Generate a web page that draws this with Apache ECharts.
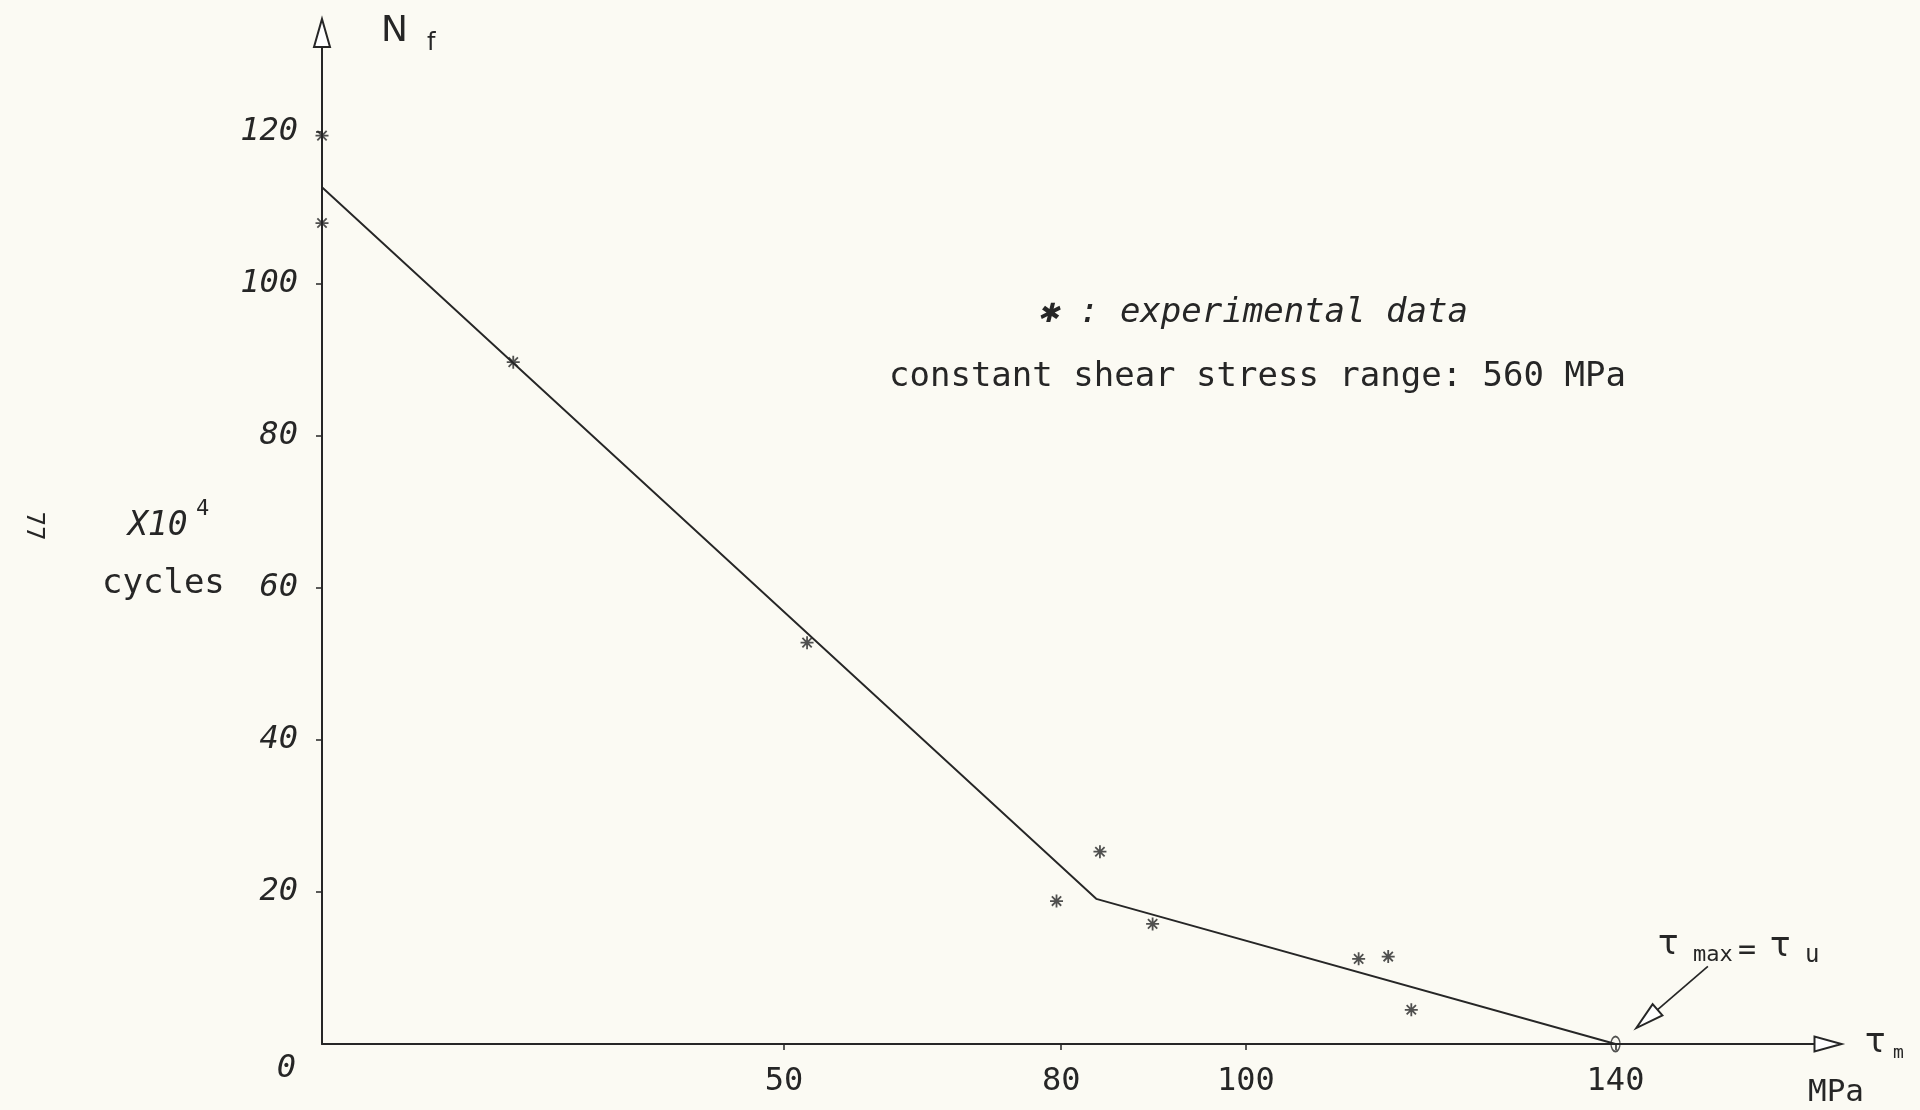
<!DOCTYPE html>
<html>
<head>
<meta charset="utf-8">
<style>
html,body{margin:0;padding:0;background:#fbfaf3;}
#chart{width:1920px;height:1110px;}
</style>
<script src="https://cdn.jsdelivr.net/npm/echarts@6/dist/echarts.min.js"></script>
</head>
<body>
<div id="chart"></div>
<script>
// ---- data ----
const xTickValues = [50, 80, 100, 140];
const yTickValues = [0, 20, 40, 60, 80, 100, 120];
// experimental data (tau_m in MPa, Nf in 10^4 cycles)
const expTau = [0, 0, 20.7, 52.5, 79.5, 84.2, 89.9, 112.2, 115.4, 117.9];
const expCycles = [119.5, 108, 89.7, 52.8, 18.8, 25.3, 15.8, 11.2, 11.5, 4.5];
// fitted polyline
const fitTau = [0, 83.8, 140];
const fitCycles = [112.7, 19.1, 0];
// tau_max = tau_u point
const ultTau = [140];
const ultCycles = [0];
// annotation arrow (tail -> head) in data units
const arrowTau = [150.0, 143.4];
const arrowCycles = [10.2, 3.3];

const INK = '#262626';
const MONO = "'DejaVu Sans Mono', 'Liberation Mono', monospace";

const chart = echarts.init(document.getElementById('chart'));
const asterisk = 'path://M0,-6L0,6M-6,0L6,0M-4.3,-4.3L4.3,4.3M-4.3,4.3L4.3,-4.3';

const option = {
  backgroundColor: '#fbfaf3',
  animation: false,
  grid: { left: 322, right: 92, top: 33, bottom: 66 },
  xAxis: {
    type: 'value', min: 0, max: 163,
    splitLine: { show: false },
    axisLine: { lineStyle: { color: INK, width: 2 }, symbol: ['none', 'emptyTriangle'], symbolSize: [15, 27] },
    axisTick: { show: true, length: 6, inside: false, customValues: xTickValues, lineStyle: { color: INK, width: 1.5 } },
    axisLabel: { customValues: xTickValues, margin: 22, color: INK, fontFamily: MONO, fontSize: 32 }
  },
  yAxis: {
    type: 'value', min: 0, max: 133,
    splitLine: { show: false },
    axisLine: { onZero: false, lineStyle: { color: INK, width: 2 }, symbol: ['none', 'emptyTriangle'], symbolSize: [16, 28] },
    axisTick: { show: true, length: 6, customValues: yTickValues.filter(v => v > 0), lineStyle: { color: INK, width: 1.5 } },
    axisLabel: {
      customValues: yTickValues, margin: 24, color: INK, fontFamily: MONO, fontSize: 32, fontStyle: 'italic',
      formatter: v => (v === 0 ? '{z|0}' : String(v)),
      rich: { z: { fontFamily: MONO, fontSize: 32, fontStyle: 'italic', color: INK, padding: [50, 2, 0, 0] } }
    }
  },
  series: [
    {
      type: 'line',
      data: fitTau.map((x, i) => [x, fitCycles[i]]),
      symbol: 'none',
      lineStyle: { color: INK, width: 1.9 },
      z: 2
    },
    {
      type: 'scatter',
      data: expTau.map((x, i) => [x, expCycles[i]]),
      symbol: asterisk,
      symbolSize: 13,
      itemStyle: { color: 'rgba(0,0,0,0)', borderColor: INK, borderWidth: 1.8 },
      z: 3,
      markLine: {
        silent: true,
        symbol: ['none', 'emptyTriangle'],
        label: { show: false },
        lineStyle: { color: INK, width: 1.7, type: 'solid' },
        data: [[
          { coord: [arrowTau[0], arrowCycles[0]], symbol: 'none' },
          { coord: [arrowTau[1], arrowCycles[1]], symbol: 'emptyTriangle', symbolSize: [15, 28] }
        ]]
      }
    },
    {
      type: 'scatter',
      data: ultTau.map((x, i) => [x, ultCycles[i]]),
      symbol: 'circle',
      symbolSize: [9, 15],
      itemStyle: { color: 'rgba(0,0,0,0)', borderColor: INK, borderWidth: 1.6 },
      z: 4
    }
  ],
  graphic: [
    { type: 'text', left: 381, top: 14, style: { text: 'N', font: "36px 'DejaVu Sans', sans-serif", fill: INK } },
    { type: 'text', left: 427, top: 32, style: { text: 'f', font: "24px 'DejaVu Sans', sans-serif", fill: INK } },
    { type: 'text', x: 33, y: 526, rotation: -Math.PI / 2, style: { text: '77', font: "24px " + MONO, fill: INK, align: 'center', verticalAlign: 'middle' } },
    { type: 'text', left: 128, top: 510, style: { text: 'X10', font: "italic 33px " + MONO, fill: INK } },
    { type: 'text', left: 196, top: 498, style: { text: '4', font: "22px " + MONO, fill: INK } },
    { type: 'text', left: 102, top: 567, style: { text: 'cycles', font: "34px " + MONO, fill: INK } },
    { type: 'text', left: 1038, top: 296, style: { text: '✱ : experimental data', font: "italic 34px " + MONO, fill: INK } },
    { type: 'text', left: 889, top: 360, style: { text: 'constant shear stress range: 560 MPa', font: "34px " + MONO, fill: INK } },
    { type: 'text', left: 1658, top: 928, style: { text: 'τ', font: "34px 'DejaVu Sans', sans-serif", fill: INK } },
    { type: 'text', left: 1693, top: 944, style: { text: 'max', font: "22px " + MONO, fill: INK } },
    { type: 'text', left: 1738, top: 936, style: { text: '=', font: "30px " + MONO, fill: INK } },
    { type: 'text', left: 1770, top: 930, style: { text: 'τ', font: "34px 'DejaVu Sans', sans-serif", fill: INK } },
    { type: 'text', left: 1805, top: 944, style: { text: 'u', font: "24px " + MONO, fill: INK } },
    { type: 'text', left: 1865, top: 1026, style: { text: 'τ', font: "34px 'DejaVu Sans', sans-serif", fill: INK } },
    { type: 'text', left: 1893, top: 1044, style: { text: 'm', font: "18px " + MONO, fill: INK } },
    { type: 'text', left: 1808, top: 1077, style: { text: 'MPa', font: "31px " + MONO, fill: INK } }
  ]
};
chart.setOption(option);
</script>
</body>
</html>
